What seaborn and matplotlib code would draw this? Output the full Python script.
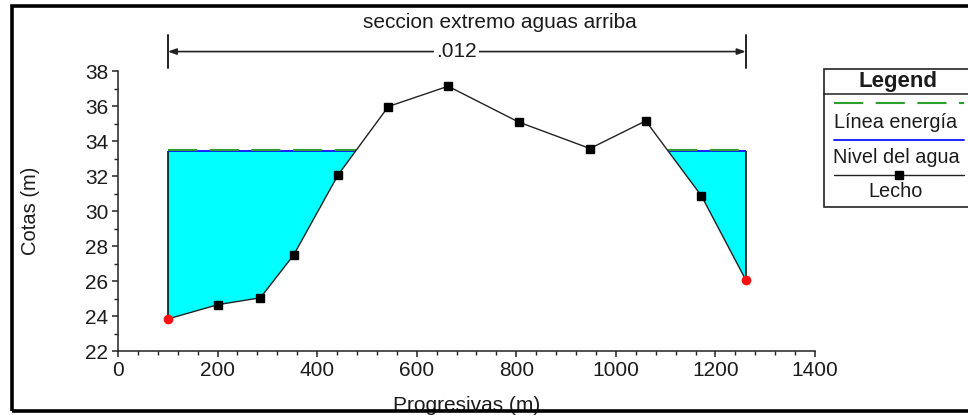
import numpy as np
import pandas as pd
import matplotlib
matplotlib.use("Agg")
import matplotlib.pyplot as plt
from matplotlib.lines import Line2D
from matplotlib.patches import Rectangle
from matplotlib.ticker import MultipleLocator
import seaborn as sns

# Cross-section geometry: station (m) and bed elevation (m)
estaciones = [100, 201, 286, 353, 442, 543, 663, 805, 948, 1060, 1172, 1261]
cotas = [23.83, 24.65, 25.04, 27.49, 32.06, 35.97, 37.13, 35.08, 33.57, 35.15, 30.86, 26.06]
nivel_agua = 33.43        # water surface elevation
linea_energia = 33.46     # energy grade line elevation
rugosidad = ".012"        # Manning n across the section
titulo = "seccion extremo aguas arriba"
leyenda_titulo = "Legend"
leyenda_items = ["Línea energía", "Nivel del agua", "Lecho"]

W, H = 968, 415
TXT = "#1c1c1c"
FS = 15

sns.set_style("ticks")
plt.rcParams["font.family"] = ["Liberation Sans", "DejaVu Sans"]

fig = plt.figure(figsize=(W / 100, H / 100), dpi=100)
fig.patch.set_facecolor("white")


def px(x, y):
    """Pixel position -> figure fraction."""
    return x / W, 1 - y / H


ax = fig.add_axes([118 / W, 1 - 351 / H, (815 - 118) / W, (351 - 71) / H])
ax.set_facecolor("white")

x = np.asarray(estaciones, dtype=float)
z = np.asarray(cotas, dtype=float)
df = pd.DataFrame({"Estacion": x, "Cota": z})


def tramos_mojados(xs, zs, nivel):
    """Station intervals where the bed lies below a given level."""
    tramos, inicio = [], (xs[0] if zs[0] < nivel else None)
    for i in range(len(xs) - 1):
        z0, z1 = zs[i], zs[i + 1]
        if (z0 < nivel) != (z1 < nivel):
            xc = xs[i] + (nivel - z0) / (z1 - z0) * (xs[i + 1] - xs[i])
            if inicio is None:
                inicio = xc
            else:
                tramos.append((inicio, xc))
                inicio = None
    if inicio is not None:
        tramos.append((inicio, xs[-1]))
    return tramos


# Water body
ax.fill_between(x, z, nivel_agua, where=z < nivel_agua, interpolate=True,
                color="#00ffff", linewidth=0, zorder=1)
ax.vlines([x[0], x[-1]], [z[0], z[-1]], nivel_agua, color="black", lw=1.1, zorder=2)

for a, b in tramos_mojados(x, z, nivel_agua):
    ax.hlines(nivel_agua, a, b, color="#1010ff", lw=1.3, zorder=2)
for a, b in tramos_mojados(x, z, linea_energia):
    ax.hlines(linea_energia, a, b, color="#2ca02c", lw=1.5,
              linestyles=(0, (14, 6)), zorder=3)

# Bed profile
sns.lineplot(data=df, x="Estacion", y="Cota", sort=False, color="#222222",
             lw=1.0, ax=ax, zorder=4)
ax.plot(x[1:-1], z[1:-1], "s", color="black", ms=5.2, zorder=5)
ax.plot(x[[0, -1]], z[[0, -1]], "o", color="#ff1010", ms=6.0, zorder=5)

# Axes
ax.set_xlim(0, 1400)
ax.set_ylim(22, 38)
ax.xaxis.set_major_locator(MultipleLocator(200))
ax.xaxis.set_minor_locator(MultipleLocator(40))
ax.yaxis.set_major_locator(MultipleLocator(2))
ax.yaxis.set_minor_locator(MultipleLocator(1))
sns.despine(ax=ax)
for s in ("left", "bottom"):
    ax.spines[s].set_linewidth(1.1)
    ax.spines[s].set_color("#222222")
ax.tick_params(which="major", length=4.5, width=1.1, color="#222222",
               labelsize=FS, labelcolor=TXT)
ax.tick_params(which="minor", length=3, width=1.0, color="#222222")
ax.tick_params(axis="y", pad=2.5)
ax.tick_params(axis="x", pad=3.0)
ax.set_xlabel("Progresivas (m)", fontsize=FS, color=TXT)
ax.set_ylabel("Cotas (m)", fontsize=14.5, color=TXT)
ax.xaxis.set_label_coords(0.5, -0.162)
ax.yaxis.set_label_coords(-0.112, 0.5)

# Dimension line showing the roughness extent
y_cota = 39.11
ax.annotate("", xy=(x[0], y_cota), xytext=(x[-1], y_cota),
            arrowprops=dict(arrowstyle="<|-|>,head_length=0.5,head_width=0.18",
                            color="#222222", lw=1.2, shrinkA=0, shrinkB=0),
            annotation_clip=False)
for xe in (x[0], x[-1]):
    ax.plot([xe, xe], [38.17, 40.06], color="#222222", lw=1.4, clip_on=False)
ax.text((x[0] + x[-1]) / 2, y_cota, rugosidad, ha="center", va="center",
        fontsize=FS, color=TXT,
        bbox=dict(facecolor="white", edgecolor="none", pad=1.5))

fig.text(*px(500, 22), titulo, ha="center", va="center", fontsize=FS, color=TXT)

# Legend panel
fig.add_artist(Rectangle(px(824, 207), 200 / W, (207 - 69) / H,
                         transform=fig.transFigure, facecolor="white",
                         edgecolor="#222222", lw=1.2))
fig.add_artist(Line2D([824 / W, 1.0], [1 - 94 / H] * 2, transform=fig.transFigure,
                      color="#222222", lw=1.1))
fig.text(*px(898, 81), leyenda_titulo, ha="center", va="center", fontsize=16,
         fontweight="bold", color=TXT)
fig.add_artist(Line2D([834 / W, 964 / W], [1 - 103 / H] * 2, transform=fig.transFigure,
                      color="#2ca02c", lw=1.5, linestyle=(0, (14, 6))))
fig.add_artist(Line2D([834 / W, 964 / W], [1 - 140 / H] * 2, transform=fig.transFigure,
                      color="#1010ff", lw=1.3))
fig.add_artist(Line2D([834 / W, 964 / W], [1 - 175 / H] * 2, transform=fig.transFigure,
                      color="#222222", lw=1.0))
fig.add_artist(Line2D([899 / W], [1 - 175 / H], transform=fig.transFigure,
                      color="black", marker="s", ms=5.2, linestyle="none"))
for texto, yy in zip(leyenda_items, (122, 157, 191)):
    fig.text(*px(896, yy), texto, ha="center", va="center", fontsize=14.3, color=TXT)

# Outer frame
frame = Rectangle(px(11.5, 411), 1.2, (411 - 6.5) / H, transform=fig.transFigure,
                  facecolor="none", edgecolor="black", lw=2.6, zorder=10)
fig.add_artist(frame)

fig.savefig("out.png", dpi=100, facecolor="white")
